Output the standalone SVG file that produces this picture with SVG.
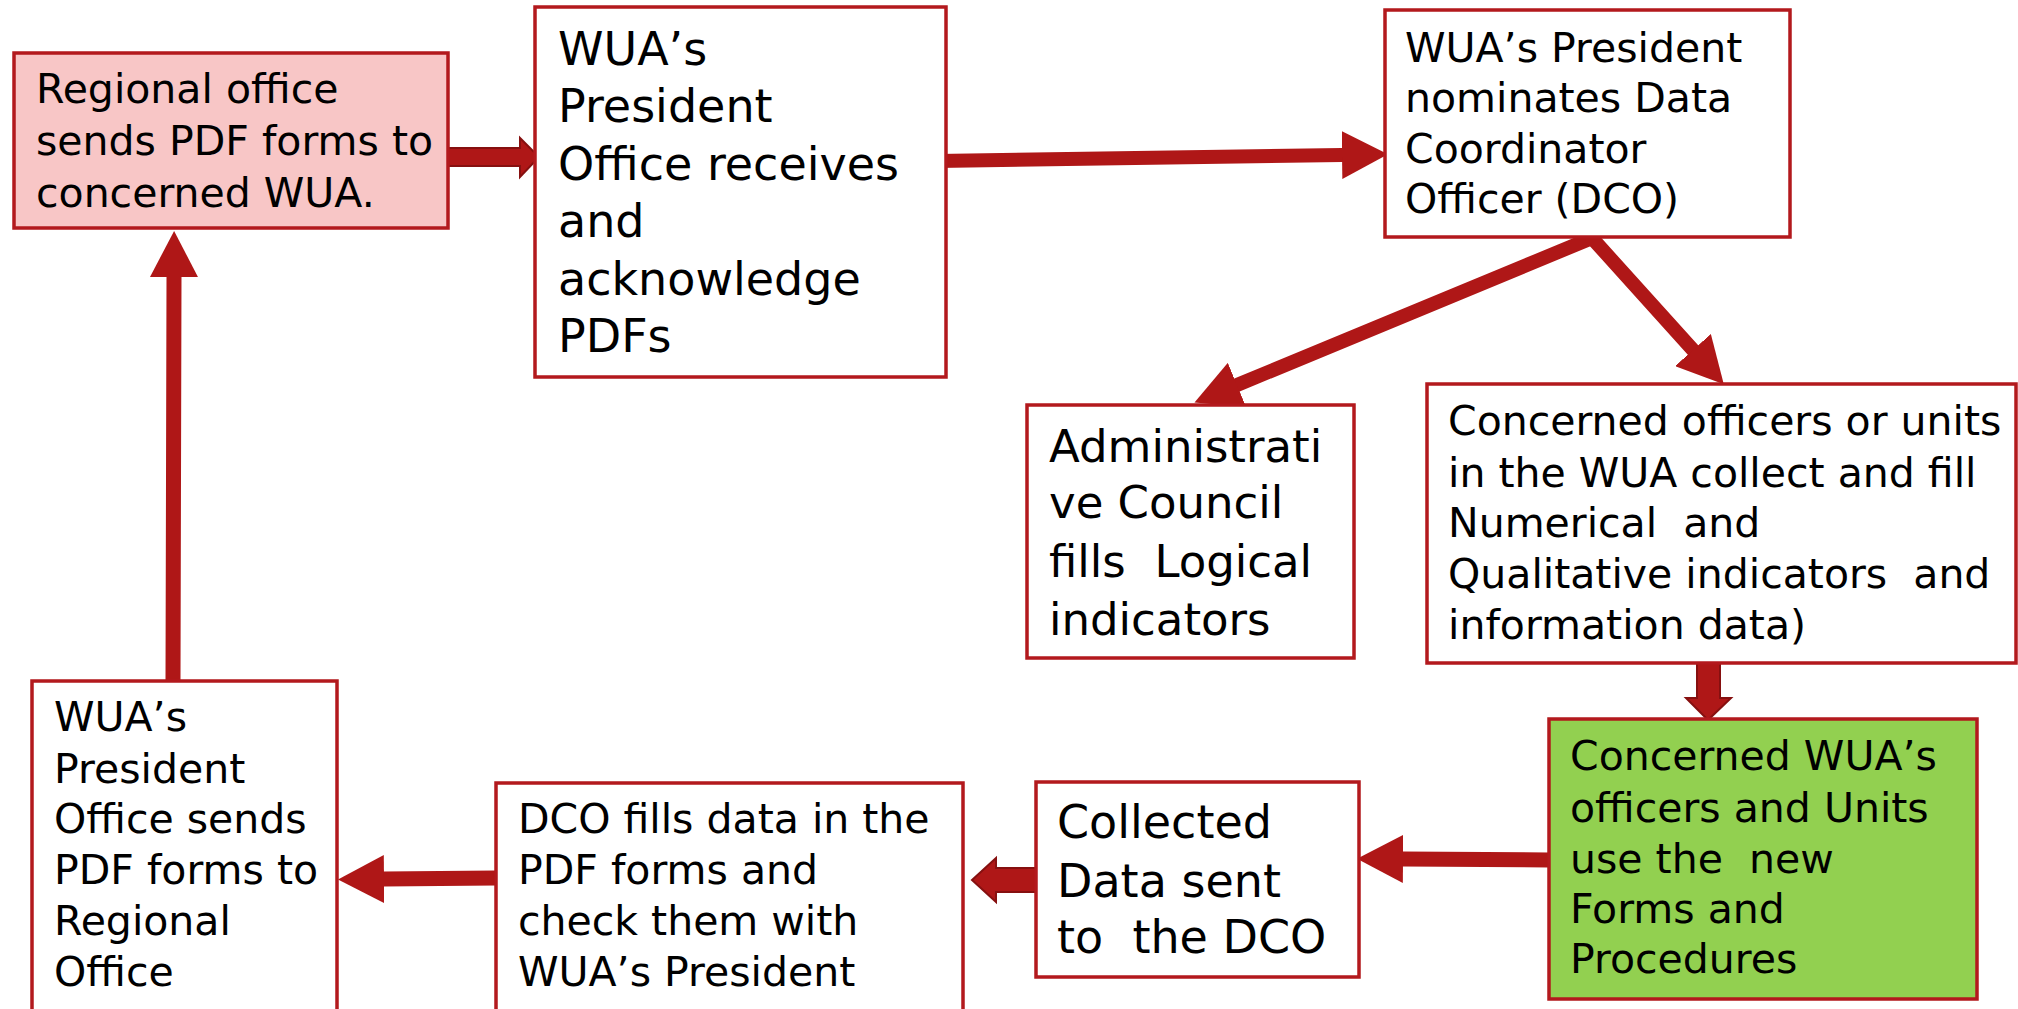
<svg xmlns="http://www.w3.org/2000/svg" width="2018" height="1009" viewBox="0 0 2018 1009">
<style>
.box{fill:#FFFFFF;stroke:#B3191D;stroke-width:3.5}
.pink{fill:#F8C6C6}
.green{fill:#92D050}
text{font-family:"DejaVu Sans","Liberation Sans",sans-serif;fill:#000;white-space:pre}
.f41{font-size:41px}
.f45{font-size:45px}
.f46{font-size:46px}
.conn{fill:none;stroke:#AF1717;stroke-width:14;stroke-linecap:round}
.block{fill:#AF1717;stroke:#861010;stroke-width:2;stroke-linejoin:miter}
</style>
<defs>
<marker id="ah" viewBox="0 0 10 10" refX="0" refY="5" markerUnits="userSpaceOnUse" markerWidth="46" markerHeight="48" preserveAspectRatio="none" orient="auto">
<path d="M0,0 L10,5 L0,10 Z" fill="#AF1717"/>
</marker>
</defs>

<g id="connectors">
<path class="block" d="M448,148 L520,148 L520,138 L539,157 L520,177 L520,166 L448,166 Z"/>
<path class="conn" d="M937,161 L1342,155" marker-end="url(#ah)"/>
<path class="conn" d="M1592,238 L1237,385" marker-end="url(#ah)"/>
<path class="conn" d="M1592,238 L1693,350" marker-end="url(#ah)"/>
<path class="block" d="M1697,661 L1720,661 L1720,698 L1731,698 L1708,720 L1686,698 L1697,698 Z"/>
<path class="conn" style="stroke-width:15" d="M1549,860 L1403,859" marker-end="url(#ah)"/>
<path class="block" d="M1036,868 L996,868 L996,858 L972,880 L996,902 L996,892 L1036,892 Z"/>
<path class="conn" style="stroke-width:15" d="M496,878 L384,879" marker-end="url(#ah)"/>
<path class="conn" style="stroke-width:15" d="M173,682 L174,277" marker-end="url(#ah)"/>
</g>

<g id="node-regional-office">
<rect class="box pink" x="14" y="53" width="434" height="175"/>
<text class="f41" x="36" y="103">Regional office</text>
<text class="f41" x="36" y="155">sends PDF forms to</text>
<text class="f41" x="36" y="207">concerned WUA.</text>
</g>

<g id="node-president-receives">
<rect class="box" x="535" y="7" width="411" height="370"/>
<text class="f46" x="558" y="65">WUA’s</text>
<text class="f46" x="558" y="122">President</text>
<text class="f46" x="558" y="180">Office receives</text>
<text class="f46" x="558" y="237">and</text>
<text class="f46" x="558" y="295">acknowledge</text>
<text class="f46" x="558" y="352">PDFs</text>
</g>

<g id="node-nominates-dco">
<rect class="box" x="1385" y="10" width="405" height="227"/>
<text class="f41" x="1405" y="62">WUA’s President</text>
<text class="f41" x="1405" y="112">nominates Data</text>
<text class="f41" x="1405" y="163">Coordinator</text>
<text class="f41" x="1405" y="213">Officer (DCO)</text>
</g>

<g id="node-admin-council">
<rect class="box" x="1027" y="405" width="327" height="253"/>
<text class="f45" x="1049" y="462">Administrati</text>
<text class="f45" x="1049" y="518">ve Council</text>
<text class="f45" x="1049" y="577">fills  Logical</text>
<text class="f45" x="1049" y="635">indicators</text>
</g>

<g id="node-concerned-officers">
<rect class="box" x="1427" y="384" width="589" height="279"/>
<text class="f41" x="1448" y="435">Concerned officers or units</text>
<text class="f41" x="1448" y="487">in the WUA collect and fill</text>
<text class="f41" x="1448" y="537">Numerical  and</text>
<text class="f41" x="1448" y="588">Qualitative indicators  and</text>
<text class="f41" x="1448" y="639">information data)</text>
</g>

<g id="node-new-forms">
<rect class="box green" x="1549" y="719" width="428" height="280"/>
<text class="f41" x="1570" y="770">Concerned WUA’s</text>
<text class="f41" x="1570" y="822">officers and Units</text>
<text class="f41" x="1570" y="873">use the  new</text>
<text class="f41" x="1570" y="923">Forms and</text>
<text class="f41" x="1570" y="973">Procedures</text>
</g>

<g id="node-collected-data">
<rect class="box" x="1036" y="782" width="323" height="195"/>
<text class="f46" x="1057" y="838">Collected</text>
<text class="f46" x="1057" y="897">Data sent</text>
<text class="f46" x="1057" y="953">to  the DCO</text>
</g>

<g id="node-dco-fills">
<rect class="box" x="496" y="783" width="467" height="230"/>
<text class="f41" x="518" y="833">DCO fills data in the</text>
<text class="f41" x="518" y="884">PDF forms and</text>
<text class="f41" x="518" y="935">check them with</text>
<text class="f41" x="518" y="986">WUA’s President</text>
</g>

<g id="node-president-sends">
<rect class="box" x="32" y="681" width="305" height="332"/>
<text class="f41" x="54" y="731">WUA’s</text>
<text class="f41" x="54" y="783">President</text>
<text class="f41" x="54" y="833">Office sends</text>
<text class="f41" x="54" y="884">PDF forms to</text>
<text class="f41" x="54" y="935">Regional</text>
<text class="f41" x="54" y="986">Office</text>
</g>
</svg>
